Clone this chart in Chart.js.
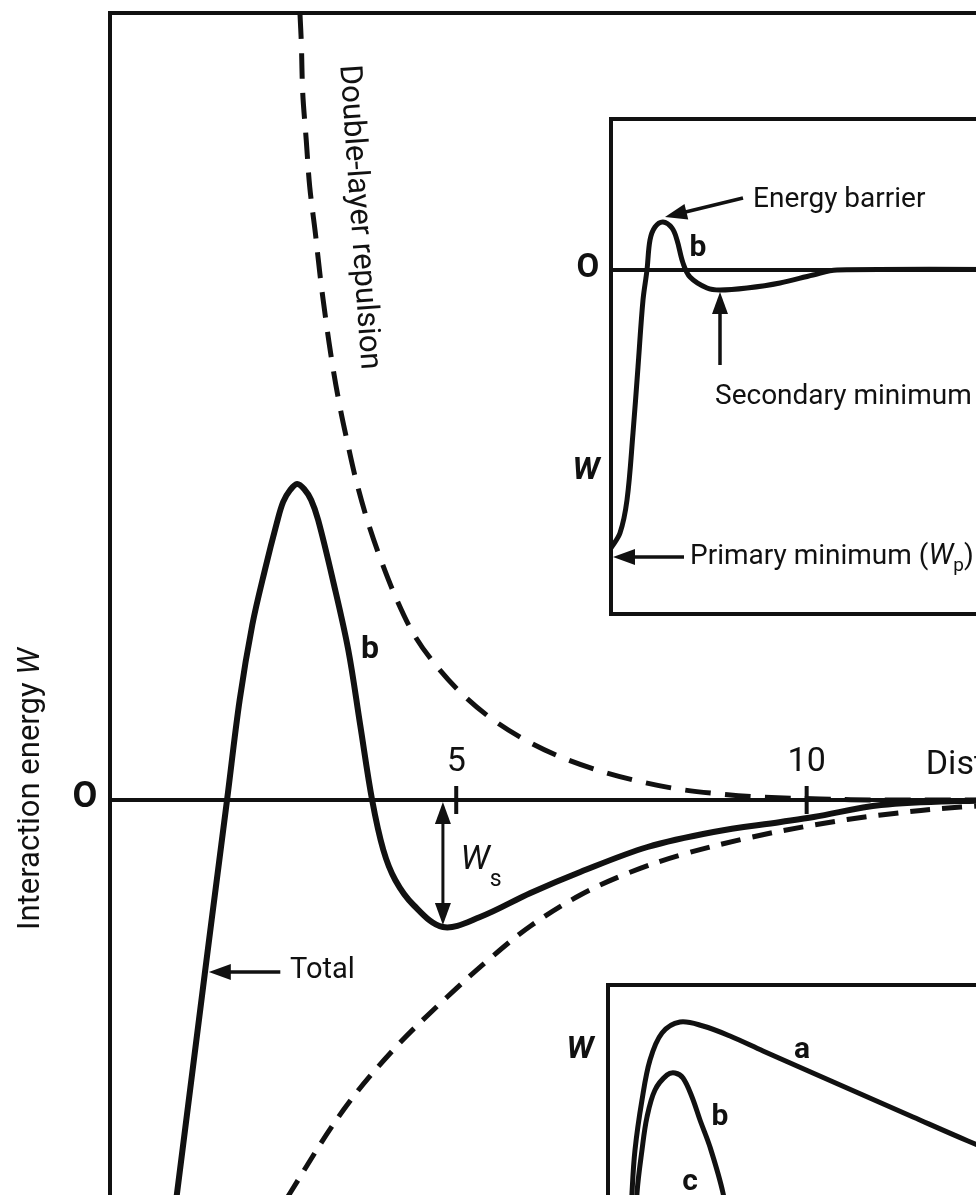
<!DOCTYPE html>
<html>
<head>
<meta charset="utf-8">
<title>Interaction energy W</title>
<script src="https://cdn.jsdelivr.net/npm/chart.js@4.4.0/dist/chart.umd.min.js"></script>
<style>
    html, body { margin: 0; padding: 0; background: #fff; overflow: hidden; width: 976px; height: 1195px; }
    canvas { position: absolute; }
    #mainChart { left: 0; top: 0; }
    #barrierChart { left: 560px; top: 100px; }
    #kindsChart { left: 560px; top: 965px; }
</style>
</head>
<body>
<canvas id="mainChart" width="1100" height="1300"></canvas>
<canvas id="barrierChart" width="540" height="540"></canvas>
<canvas id="kindsChart" width="540" height="330"></canvas>
<script>
// ==============================
// Data
// ==============================

// main plot: distance D vs interaction energy W
const totalD = [0.86, 1.41, 1.51, 1.73, 1.91, 2.09, 2.27, 2.44, 2.53, 2.63, 2.73, 2.83, 2.93, 3.03, 3.24, 3.46, 3.63, 3.8, 3.96, 4.13, 4.39, 4.81, 5.34, 6.06, 6.77, 7.73, 8.67, 9.63, 10.1, 11.06, 12.2, 14.0];
const totalW = [-4.8, -1.75, -1.2, 0, 1.0, 1.75, 2.3, 2.77, 2.98, 3.10, 3.16, 3.11, 3.0, 2.8, 2.2, 1.5, 0.75, 0, -0.5, -0.8, -1.05, -1.27, -1.17, -0.93, -0.72, -0.47, -0.32, -0.22, -0.17, -0.05, -0.01, 0];

const repulsionD = [2.77, 2.79, 2.81, 2.86, 2.91, 2.99, 3.06, 3.14, 3.23, 3.33, 3.44, 3.57, 3.73, 3.91, 4.16, 4.41, 4.73, 5.1, 5.53, 6.01, 6.49, 7.01, 7.59, 8.16, 8.77, 9.34, 10.2, 11.06, 14.0];
const repulsionW = [7.87, 7.57, 7.07, 6.6, 6.13, 5.67, 5.23, 4.8, 4.37, 3.97, 3.6, 3.2, 2.8, 2.43, 1.99, 1.64, 1.33, 1.05, 0.8, 0.59, 0.43, 0.3, 0.19, 0.11, 0.06, 0.03, 0.01, 0, 0];

const attractionD = [1.89, 2.63, 3.39, 4.1, 4.87, 5.49, 6.06, 6.77, 7.49, 8.2, 9.16, 10.1, 11.06, 12.2, 14.0];
const attractionW = [-4.8, -3.93, -3.1, -2.5, -1.97, -1.58, -1.26, -0.95, -0.72, -0.55, -0.38, -0.25, -0.15, -0.07, -0.01];

const distanceTicks = [5, 10];

// upper inset: energy barrier and minima (curve b)
const barrierD = [0, 0.45, 0.8, 1.1, 1.35, 1.6, 1.8, 1.95, 2.2, 2.6, 3.05, 3.3, 3.6, 3.95, 4.8, 5.45, 6.8, 8.45, 10.1, 11.3, 24.45];
const barrierW = [-13.9, -13.15, -11.5, -8.15, -4.85, -1.5, 0, 1.5, 2.15, 2.4, 2.1, 1.5, 0.35, -0.35, -0.9, -1.0, -0.9, -0.65, -0.25, 0, 0];

// lower inset: curves a and b
const curveAD = [1.05, 1.2, 1.35, 1.7, 2.1, 2.7, 3.6, 4.75, 6.1, 7.75, 9.45, 11.95, 15.25, 18.0, 24.1];
const curveAW = [-3.0, 0.35, 2.5, 5.0, 7.0, 8.35, 8.9, 8.7, 8.2, 7.45, 6.7, 5.6, 4.15, 2.95, 0.4];
const curveBD = [1.3, 1.45, 1.7, 1.95, 2.35, 2.95, 3.35, 3.75, 4.2, 4.6, 5.1, 5.75, 6.35];
const curveBW = [-3.0, 0.35, 2.5, 4.15, 5.5, 6.25, 6.35, 6.1, 5.15, 4.0, 2.65, 0.35, -3.0];

// ==============================
// Helpers
// ==============================

const ink = "#111";
const sans = "Roboto, 'Open Sans', sans-serif";

function points(xs, ys) {
    return xs.map((x, i) => ({ x: x, y: ys[i] }));
}

function curve(xs, ys, width, dash) {
    return {
        data: points(xs, ys),
        showLine: true,
        pointRadius: 0,
        borderColor: ink,
        borderWidth: width,
        borderDash: dash || [],
        borderCapStyle: "butt",
        borderJoinStyle: "round",
        tension: 0.35,
        fill: false
    };
}

function text(ctx, str, x, y, font, align) {
    ctx.font = font;
    ctx.textAlign = align || "left";
    ctx.textBaseline = "middle";
    ctx.fillText(str, x, y);
    return ctx.measureText(str).width;
}

function arrow(ctx, x1, y1, x2, y2, width) {
    const a = Math.atan2(y2 - y1, x2 - x1);
    const len = 22, half = 8;
    ctx.lineWidth = width;
    ctx.beginPath();
    ctx.moveTo(x1, y1);
    ctx.lineTo(x2 - (len - 2) * Math.cos(a), y2 - (len - 2) * Math.sin(a));
    ctx.stroke();
    ctx.beginPath();
    ctx.moveTo(x2, y2);
    ctx.lineTo(x2 - len * Math.cos(a) + half * Math.sin(a), y2 - len * Math.sin(a) - half * Math.cos(a));
    ctx.lineTo(x2 - len * Math.cos(a) - half * Math.sin(a), y2 - len * Math.sin(a) + half * Math.cos(a));
    ctx.closePath();
    ctx.fill();
}

function frame(chart, width, zeroLine) {
    const ctx = chart.ctx;
    const area = chart.chartArea;
    ctx.save();
    ctx.fillStyle = "#fff";
    ctx.fillRect(area.left, area.top, area.width, area.height);
    ctx.strokeStyle = ink;
    ctx.lineWidth = width;
    ctx.strokeRect(area.left, area.top, area.width, area.height);
    if (zeroLine) {
        const y0 = chart.scales.y.getPixelForValue(0);
        ctx.beginPath();
        ctx.moveTo(area.left, y0);
        ctx.lineTo(area.right, y0);
        ctx.stroke();
    }
    ctx.restore();
}

function baseOptions(xMin, xMax, yMin, yMax, padding) {
    return {
        responsive: false,
        animation: false,
        events: [],
        layout: { padding: padding },
        plugins: { legend: { display: false }, tooltip: { enabled: false } },
        scales: {
            x: { type: "linear", min: xMin, max: xMax, display: false },
            y: { type: "linear", min: yMin, max: yMax, display: false }
        }
    };
}

// ==============================
// Main chart
// ==============================

const mainDecor = {
    id: "mainDecor",
    beforeDatasetsDraw(chart) {
        frame(chart, 4, true);
        const ctx = chart.ctx;
        const sx = chart.scales.x, sy = chart.scales.y;
        const y0 = sy.getPixelForValue(0);
        ctx.save();
        ctx.strokeStyle = ink;
        ctx.fillStyle = ink;
        ctx.lineWidth = 4;
        distanceTicks.forEach(t => {
            const x = sx.getPixelForValue(t);
            ctx.beginPath();
            ctx.moveTo(x, y0 - 14);
            ctx.lineTo(x, y0 + 14);
            ctx.stroke();
            text(ctx, String(t), x, y0 - 38, "34px " + sans, "center");
        });
        ctx.restore();
    },
    afterDatasetsDraw(chart) {
        const ctx = chart.ctx;
        const sx = chart.scales.x, sy = chart.scales.y;
        const X = v => sx.getPixelForValue(v);
        const Y = v => sy.getPixelForValue(v);
        ctx.save();
        ctx.fillStyle = ink;
        ctx.strokeStyle = ink;

        // zero label and axis titles
        text(ctx, "O", chart.chartArea.left - 25, Y(0) - 2, "bold 36px " + sans, "center");

        ctx.save();
        ctx.translate(31, 648);
        ctx.rotate(-Math.PI / 2);
        const wTitle = text(ctx, "W", 0, 0, "italic 31px " + sans, "right");
        text(ctx, "Interaction energy ", -wTitle, 0, "31px " + sans, "right");
        ctx.restore();

        const distX = text(ctx, "Distance ", X(11.7), Y(0.35), "34px " + sans, "left");
        text(ctx, "D", X(11.7) + distX, Y(0.35), "italic 34px " + sans, "left");

        ctx.save();
        ctx.translate(348, 65);
        ctx.rotate(86 * Math.PI / 180);
        text(ctx, "Double-layer repulsion", 0, 0, "31px " + sans, "left");
        ctx.restore();

        text(ctx, "b", X(3.77), Y(1.5), "bold 32px " + sans, "center");

        // Total
        arrow(ctx, X(2.49), Y(-1.72), X(1.47), Y(-1.72), 3.5);
        text(ctx, "Total", X(2.63), Y(-1.71), "29px " + sans, "left");

        // Ws double arrow
        const wx = X(4.81);
        arrow(ctx, wx, Y(-0.63), wx, Y(0) + 2, 3);
        arrow(ctx, wx, Y(-0.63), wx, Y(-1.27) - 2, 3);
        const wW = text(ctx, "W", X(5.06), Y(-0.6), "italic 34px " + sans, "left");
        text(ctx, "s", X(5.06) + wW, Y(-0.8), "23px " + sans, "left");

        ctx.restore();
    }
};

new Chart(document.getElementById("mainChart"), {
    type: "scatter",
    data: {
        datasets: [
            curve(totalD, totalW, 6),
            curve(repulsionD, repulsionW, 5, [26, 14]),
            curve(attractionD, attractionW, 5, [20, 12])
        ]
    },
    options: baseOptions(0.06, 14.0, -4.8, 7.87, { left: 110, top: 13, right: 13, bottom: 20 }),
    plugins: [mainDecor]
});

// ==============================
// Upper inset
// ==============================

const barrierDecor = {
    id: "barrierDecor",
    beforeDatasetsDraw(chart) {
        frame(chart, 4, true);
    },
    afterDatasetsDraw(chart) {
        const ctx = chart.ctx;
        const sx = chart.scales.x, sy = chart.scales.y;
        const X = v => sx.getPixelForValue(v);
        const Y = v => sy.getPixelForValue(v);
        ctx.save();
        ctx.fillStyle = ink;
        ctx.strokeStyle = ink;

        text(ctx, "O", X(-1.15), Y(0) - 1, "bold 33px " + sans, "center");
        text(ctx, "W", X(-1.25), Y(-10.05), "italic bold 32px " + sans, "center");
        text(ctx, "b", X(4.35), Y(1.1), "bold 30px " + sans, "center");

        arrow(ctx, X(6.6), Y(3.6), X(2.7), Y(2.65), 3.5);
        text(ctx, "Energy barrier", X(7.1), Y(3.5), "28px " + sans, "left");

        arrow(ctx, X(5.45), Y(-4.75), X(5.45), Y(-1.1), 3.5);
        text(ctx, "Secondary minimum", X(5.2), Y(-6.35), "28px " + sans, "left");

        arrow(ctx, X(3.65), Y(-14.35), X(0.1), Y(-14.35), 3.5);
        let px = X(3.95);
        const py = Y(-14.35);
        px += text(ctx, "Primary minimum (", px, py, "28px " + sans, "left");
        px += text(ctx, "W", px, py, "italic 29px " + sans, "left");
        px += text(ctx, "p", px, py + 9, "19px " + sans, "left");
        text(ctx, ")", px, py, "28px " + sans, "left");

        ctx.restore();
    }
};

new Chart(document.getElementById("barrierChart"), {
    type: "scatter",
    data: { datasets: [curve(barrierD, barrierW, 5)] },
    options: baseOptions(0, 24.45, -17.2, 7.55, { left: 51, top: 19, right: 0, bottom: 26 }),
    plugins: [barrierDecor]
});

// ==============================
// Lower inset
// ==============================

const kindsDecor = {
    id: "kindsDecor",
    beforeDatasetsDraw(chart) {
        frame(chart, 4, false);
    },
    afterDatasetsDraw(chart) {
        const ctx = chart.ctx;
        const sx = chart.scales.x, sy = chart.scales.y;
        const X = v => sx.getPixelForValue(v);
        const Y = v => sy.getPixelForValue(v);
        ctx.save();
        ctx.fillStyle = ink;
        text(ctx, "W", X(-1.4), Y(7.5), "italic bold 32px " + sans, "center");
        text(ctx, "a", X(9.7), Y(7.5), "bold 30px " + sans, "center");
        text(ctx, "b", X(5.6), Y(4.15), "bold 30px " + sans, "center");
        text(ctx, "c", X(4.1), Y(0.9), "bold 30px " + sans, "center");
        ctx.restore();
    }
};

new Chart(document.getElementById("kindsChart"), {
    type: "scatter",
    data: {
        datasets: [
            curve(curveAD, curveAW, 5),
            curve(curveBD, curveBW, 5)
        ]
    },
    options: baseOptions(0, 24.6, -4.0, 10.75, { left: 48, top: 20, right: 0, bottom: 15 }),
    plugins: [kindsDecor]
});
</script>
</body>
</html>
